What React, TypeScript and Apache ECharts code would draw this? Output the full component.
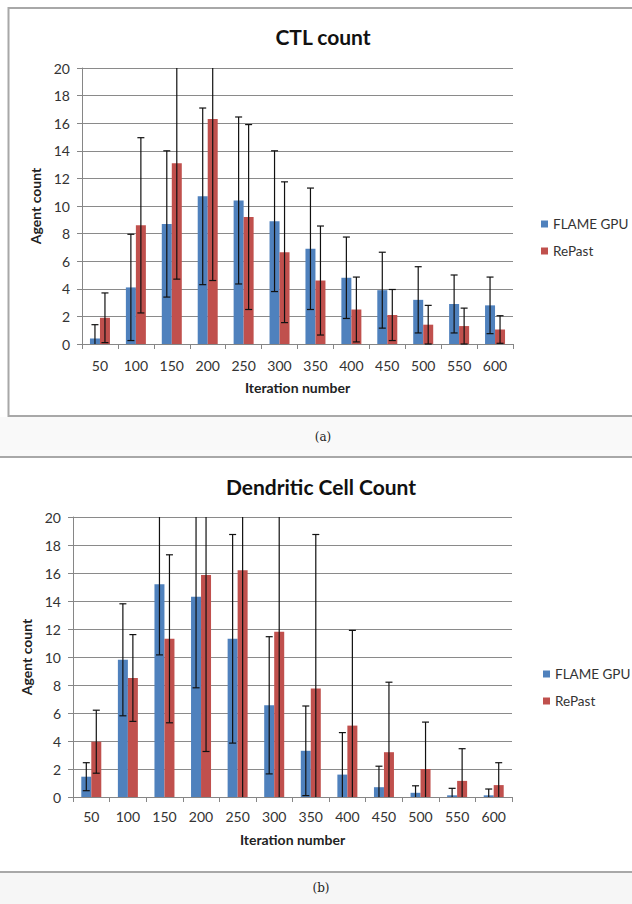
import React, { useEffect, useRef } from "react";
import * as echarts from "echarts";

const categories = ["50", "100", "150", "200", "250", "300", "350", "400", "450", "500", "550", "600"];
const seriesNames = ["FLAME GPU", "RePast"];

const ctlFlame = [0.4, 4.1, 8.7, 10.7, 10.4, 8.9, 6.9, 4.8, 3.9, 3.2, 2.9, 2.8];
const ctlFlameErr = [1.0, 3.85, 5.3, 6.4, 6.05, 5.1, 4.4, 2.95, 2.75, 2.4, 2.1, 2.05];
const ctlRepast = [1.9, 8.6, 13.1, 16.3, 9.2, 6.65, 4.6, 2.5, 2.1, 1.4, 1.3, 1.05];
const ctlRepastErr = [1.8, 6.35, 8.4, 11.7, 6.7, 5.1, 3.95, 2.35, 1.85, 1.4, 1.3, 1.0];

const dcFlame = [1.45, 9.8, 15.2, 14.3, 11.3, 6.55, 3.3, 1.6, 0.7, 0.3, 0.12, 0.12];
const dcFlameErr = [1.0, 4.0, 5.05, 6.5, 7.45, 4.9, 3.2, 3.0, 1.5, 0.5, 0.5, 0.45];
const dcRepast = [3.95, 8.5, 11.3, 15.85, 16.2, 11.8, 7.75, 5.1, 3.2, 2.0, 1.15, 0.85];
const dcRepastErr = [2.25, 3.1, 6.0, 12.6, 16.5, 12.0, 11.0, 6.8, 5.0, 3.35, 2.3, 1.6];

const yTicks = { min: 0, max: 20, interval: 2 };

const BLUE = "#4F81BD";
const RED = "#C0504D";
const FONT = "Lato";
const BAR_W = 10;

function errRender(offset: number) {
  return (params: any, api: any) => {
    const i = api.value(0);
    const v = api.value(1);
    const e = api.value(2);
    const hi = v + e;
    const lo = v - e;
    const hiC = Math.min(hi, yTicks.max);
    const loC = Math.max(lo, yTicks.min);
    const pt = api.coord([i, hiC]);
    const pb = api.coord([i, loC]);
    const x = pt[0] + offset;
    const style = { stroke: "#111", lineWidth: 1.2 };
    const children: any[] = [
      { type: "line", shape: { x1: x, y1: pt[1], x2: x, y2: pb[1] }, style },
    ];
    if (hi <= yTicks.max) {
      children.push({ type: "line", shape: { x1: x - 3.5, y1: pt[1], x2: x + 3.5, y2: pt[1] }, style });
    }
    if (lo >= yTicks.min) {
      children.push({ type: "line", shape: { x1: x - 3.5, y1: pb[1], x2: x + 3.5, y2: pb[1] }, style });
    }
    return { type: "group", children };
  };
}

function errData(vals: number[], errs: number[]) {
  return vals.map((v, i) => [i, v, errs[i]]);
}

function makeAxes(gridIndex: number, labelMargin: number, nameGap: number) {
  const x = {
    type: "category",
    gridIndex,
    data: categories,
    name: "Iteration number",
    nameLocation: "middle",
    nameGap,
    nameTextStyle: { fontFamily: FONT, fontWeight: "bold", fontSize: 14, color: "#222" },
    axisLine: { lineStyle: { color: "#868686", width: 1 } },
    axisTick: { show: true, length: 5, lineStyle: { color: "#868686" } },
    axisLabel: { fontFamily: FONT, fontSize: 14, color: "#333", margin: labelMargin, interval: 0 },
    splitLine: { show: false },
  };
  const y = {
    type: "value",
    gridIndex,
    min: yTicks.min,
    max: yTicks.max,
    interval: yTicks.interval,
    name: "Agent count",
    nameLocation: "middle",
    nameRotate: 90,
    nameGap: 34,
    nameTextStyle: { fontFamily: FONT, fontWeight: "bold", fontSize: 14, color: "#222" },
    axisLine: { show: true, lineStyle: { color: "#868686", width: 1 } },
    axisTick: { show: true, length: 5, lineStyle: { color: "#868686" } },
    axisLabel: { fontFamily: FONT, fontSize: 14, color: "#333", margin: 12 },
    splitLine: { show: true, lineStyle: { color: "#8a8a8a", width: 1 } },
  };
  return { x, y };
}

export default function App() {
  const ref = useRef<HTMLDivElement>(null);
  useEffect(() => {
    if (!ref.current) return;
    const chart = echarts.init(ref.current, undefined, { renderer: "svg" });
    const a0 = makeAxes(0, 14, 36);
    const a1 = makeAxes(1, 12, 35);

    const barSeries = (name: string, data: number[], color: string, idx: number) => ({
      type: "bar",
      name,
      xAxisIndex: idx,
      yAxisIndex: idx,
      data,
      barWidth: BAR_W,
      barGap: "0%",
      itemStyle: { color },
      z: 2,
    });
    const errSeries = (data: any[], offset: number, idx: number) => ({
      type: "custom",
      name: "err",
      xAxisIndex: idx,
      yAxisIndex: idx,
      data,
      encode: { x: 0, y: 1 },
      renderItem: errRender(offset),
      clip: false,
      z: 5,
      silent: true,
    });

    const legendBase = {
      orient: "vertical",
      data: seriesNames,
      icon: "rect",
      itemWidth: 7,
      itemHeight: 7,
      itemGap: 13,
      textStyle: { fontFamily: FONT, fontSize: 13.5, color: "#333" },
    };

    chart.setOption({
      animation: false,
      backgroundColor: "#ffffff",
      grid: [
        { left: 82, right: 119, top: 68, height: 276, containLabel: false },
        { left: 73, right: 120, top: 517, height: 280, containLabel: false },
      ],
      xAxis: [a0.x, a1.x],
      yAxis: [a0.y, a1.y],
      legend: [
        { ...legendBase, left: 536, top: 212 },
        { ...legendBase, left: 538, top: 662 },
      ],
      series: [
        barSeries(seriesNames[0], ctlFlame, BLUE, 0),
        barSeries(seriesNames[1], ctlRepast, RED, 0),
        errSeries(errData(ctlFlame, ctlFlameErr), -BAR_W / 2, 0),
        errSeries(errData(ctlRepast, ctlRepastErr), BAR_W / 2, 0),
        barSeries(seriesNames[0], dcFlame, BLUE, 1),
        barSeries(seriesNames[1], dcRepast, RED, 1),
        errSeries(errData(dcFlame, dcFlameErr), -BAR_W / 2, 1),
        errSeries(errData(dcRepast, dcRepastErr), BAR_W / 2, 1),
      ],
      graphic: [
        { type: "rect", shape: { x: 0, y: 417, width: 632, height: 40 }, style: { fill: "#f9f9f9" }, z: -10 },
        { type: "rect", shape: { x: 0, y: 873, width: 632, height: 31 }, style: { fill: "#f6f6f6" }, z: -10 },
        { type: "polyline", shape: { points: [[640, 8], [8.5, 8], [8.5, 416], [640, 416]] }, style: { stroke: "#a8a8a8", lineWidth: 2, fill: "none" }, z: -5 },
        { type: "line", shape: { x1: 0, y1: 457, x2: 632, y2: 457 }, style: { stroke: "#a8a8a8", lineWidth: 2 }, z: -5 },
        { type: "line", shape: { x1: 0, y1: 872, x2: 632, y2: 872 }, style: { stroke: "#a8a8a8", lineWidth: 2 }, z: -5 },
        { type: "text", x: 323, y: 36, style: { text: "CTL count", fontFamily: FONT, fontWeight: "bold", fontSize: 21, fill: "#111", textAlign: "center", textVerticalAlign: "middle" } },
        { type: "text", x: 321, y: 486, style: { text: "Dendritic Cell Count", fontFamily: FONT, fontWeight: "bold", fontSize: 21, fill: "#111", textAlign: "center", textVerticalAlign: "middle" } },
        { type: "text", x: 323, y: 437, style: { text: "(a)", fontFamily: "DejaVu Serif", fontSize: 12, fill: "#222", textAlign: "center", textVerticalAlign: "middle" } },
        { type: "text", x: 321, y: 888, style: { text: "(b)", fontFamily: "DejaVu Serif", fontSize: 12, fill: "#222", textAlign: "center", textVerticalAlign: "middle" } },
      ],
    });
    return () => chart.dispose();
  }, []);
  return (
    <div
      ref={ref}
      style={{ position: "fixed", left: 0, top: 0, width: 632, height: 904 }}
    />
  );
}
